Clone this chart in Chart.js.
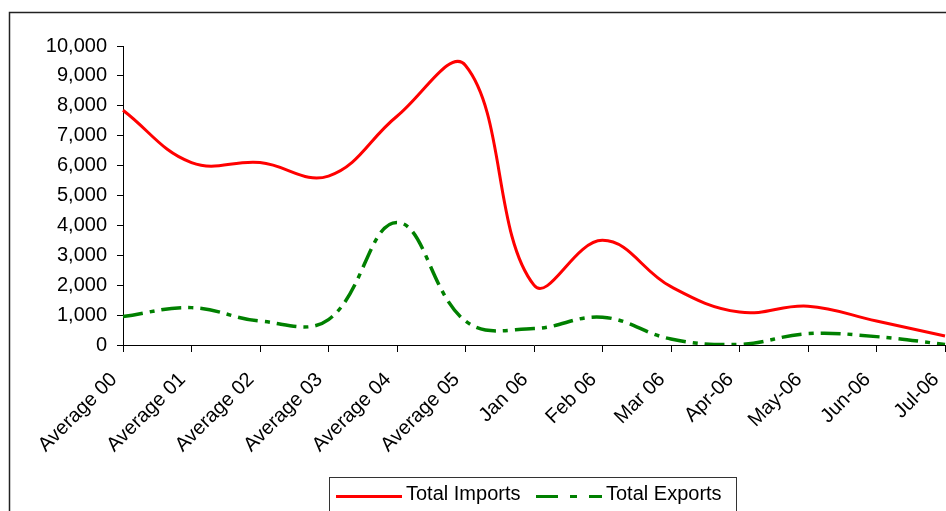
<!DOCTYPE html>
<html>
<head>
<meta charset="utf-8">
<script src="https://cdn.jsdelivr.net/npm/chart.js@4.4.1/dist/chart.umd.min.js"></script>
<style>
  html, body { margin: 0; padding: 0; background: #fff; }
  canvas { display: block; }
</style>
</head>
<body>
<canvas id="chart" width="946" height="511"></canvas>
<script>
const periods = [
  "Average 00", "Average 01", "Average 02", "Average 03", "Average 04", "Average 05",
  "Jan 06", "Feb 06", "Mar 06", "Apr-06", "May-06", "Jun-06", "Jul-06"
];
const totalImports = [7850, 6100, 6100, 5650, 7650, 9350, 2000, 3500, 1950, 1100, 1300, 800, 300];
const totalExports = [950, 1250, 800, 850, 4100, 800, 550, 930, 200, 20, 380, 280, 20];
const valueTicks = [0, 1000, 2000, 3000, 4000, 5000, 6000, 7000, 8000, 9000, 10000];

const FONT = "'Liberation Sans', Arial, sans-serif";
const exportsDash = [20, 7, 5, 7];

// outer frame plus a boxed legend under the plot
const framePlugin = {
  id: "frameAndLegend",
  beforeDraw(chart) {
    const ctx = chart.ctx;
    ctx.save();
    ctx.fillStyle = "#fff";
    ctx.fillRect(0, 0, chart.width, chart.height);
    ctx.strokeStyle = "#222";
    ctx.lineWidth = 1.5;
    ctx.strokeRect(9.5, 12.5, chart.width + 20, chart.height + 20);
    ctx.restore();
  },
  afterDraw(chart) {
    const ctx = chart.ctx;
    ctx.save();
    ctx.strokeStyle = "#333";
    ctx.lineWidth = 1;
    ctx.strokeRect(329.5, 477.5, 407, 60);

    const items = [
      { x: 336, dash: [] },
      { x: 536, dash: [22, 12, 7, 12] },
    ];
    chart.data.datasets.forEach((ds, i) => {
      const it = items[i];
      ctx.beginPath();
      ctx.setLineDash(it.dash);
      ctx.strokeStyle = ds.borderColor;
      ctx.lineWidth = 3;
      ctx.moveTo(it.x, 496.5);
      ctx.lineTo(it.x + 66, 496.5);
      ctx.stroke();
      ctx.setLineDash([]);
      ctx.fillStyle = "#000";
      ctx.font = "20px " + FONT;
      ctx.textBaseline = "alphabetic";
      ctx.fillText(ds.label, it.x + 70, 500);
    });
    ctx.restore();
  },
};

new Chart(document.getElementById("chart"), {
  type: "line",
  data: {
    labels: periods,
    datasets: [
      {
        label: "Total Imports",
        data: totalImports,
        borderColor: "#ff0000",
        borderWidth: 3,
        pointRadius: 0,
        tension: 0.4,
        fill: false,
      },
      {
        label: "Total Exports",
        data: totalExports,
        borderColor: "#008000",
        borderWidth: 3.5,
        borderDash: exportsDash,
        pointRadius: 0,
        tension: 0.4,
        fill: false,
      },
    ],
  },
  options: {
    responsive: false,
    animation: false,
    layout: { padding: { top: 46, left: 0, right: 1, bottom: 0 } },
    plugins: {
      legend: { display: false },
      tooltip: { enabled: false },
    },
    scales: {
      x: {
        offset: false,
        border: { color: "#000", width: 1 },
        grid: { drawOnChartArea: false, tickLength: 7, color: "#000" },
        ticks: {
          color: "#000",
          font: { family: FONT, size: 20 },
          maxRotation: 45,
          minRotation: 45,
          autoSkip: false,
          padding: 16,
          labelOffset: -9,
        },
        afterFit(scale) {
          scale.height = 166;
          scale.paddingLeft = 0;
          scale.paddingRight = 0;
        },
      },
      y: {
        min: 0,
        max: 10000,
        border: { color: "#000", width: 1 },
        grid: { drawOnChartArea: false, tickLength: 6, color: "#000" },
        ticks: {
          color: "#000",
          font: { family: FONT, size: 20 },
          padding: 10,
        },
        afterBuildTicks(scale) {
          scale.ticks = valueTicks.map((v) => ({ value: v }));
        },
        afterFit(scale) {
          scale.width = 123;
        },
      },
    },
  },
  plugins: [framePlugin],
});
</script>
</body>
</html>
